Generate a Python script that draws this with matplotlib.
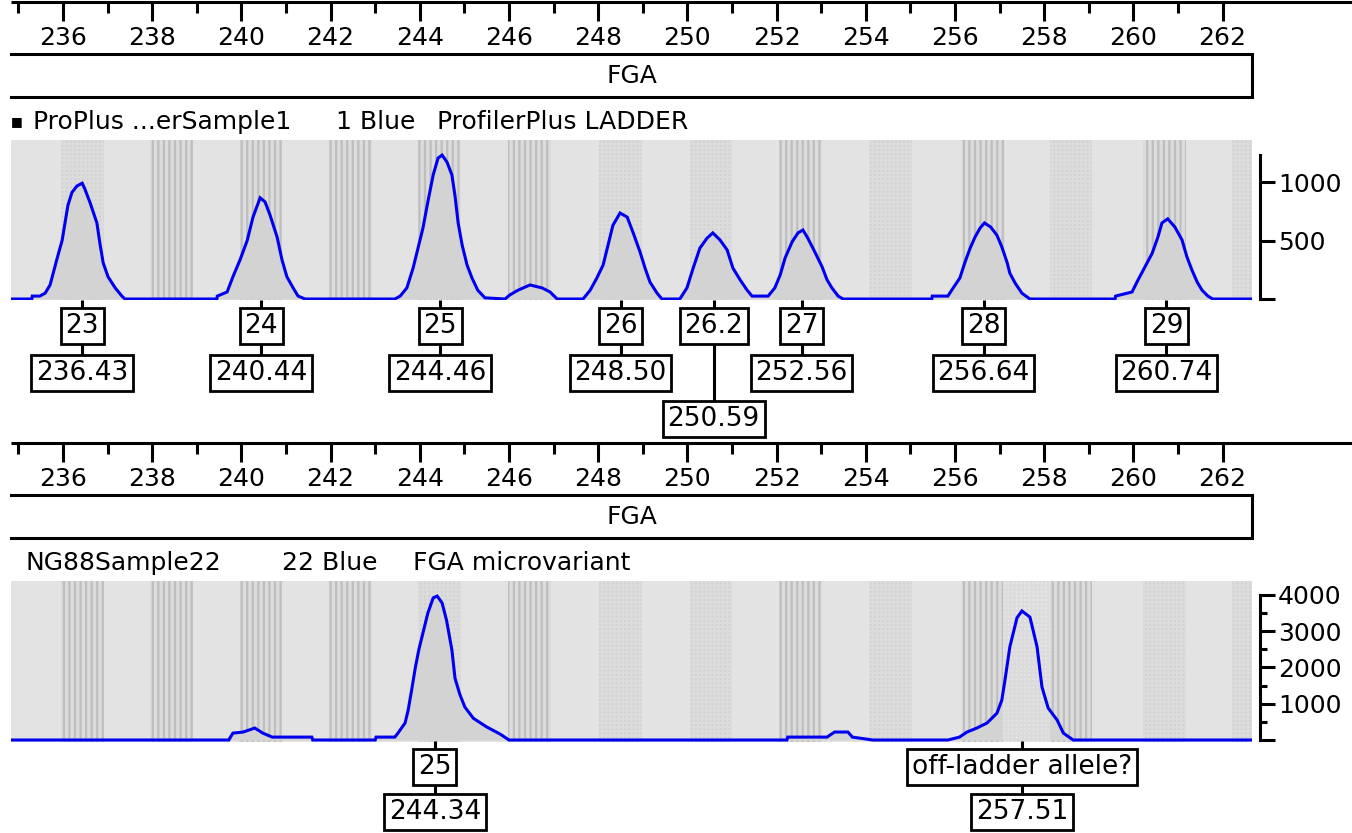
import matplotlib
matplotlib.use('Agg')
import matplotlib.pyplot as plt

W, H = 1352, 833

# ---------------- data ----------------
ruler_ticks = list(range(235, 263))
ruler_labels = list(range(236, 263, 2))

bin_centers = [236.43, 238.43, 240.44, 242.44, 244.44, 246.46, 248.50, 250.53,
               252.53, 254.55, 256.64, 258.60, 260.70, 262.70]
top_bin_kinds = ['c', 's', 's', 's', 's', 's', 'c', 'c', 's', 'c', 's', 'c', 's', 'c']
bot_bin_kinds = ['s', 's', 's', 's', 'c', 's', 'c', 'c', 's', 'c', 's', 's', 'c', 'c']
off_ladder_bin = [257.60]

top_bp = [234.83, 235.30, 235.31, 235.48, 235.60, 235.71, 235.78, 235.87, 235.98, 236.04,
          236.11, 236.20, 236.31, 236.43, 236.49, 236.61, 236.76, 236.83, 236.90, 237.01,
          237.17, 237.32, 237.39,
          239.45, 239.46, 239.68, 239.81, 239.97, 240.13, 240.26, 240.42, 240.53, 240.64,
          240.80, 240.91, 241.02, 241.16, 241.27, 241.43,
          243.44, 243.56, 243.71, 243.85, 243.96, 244.07, 244.18, 244.30, 244.41, 244.50,
          244.61, 244.72, 244.79, 244.86, 244.95, 245.06, 245.17, 245.30, 245.46,
          245.91, 246.02, 246.20, 246.47, 246.74, 246.92, 247.08,
          247.66, 247.82, 247.97, 248.11, 248.22, 248.33, 248.49, 248.65, 248.78, 248.94,
          249.05, 249.16, 249.32, 249.43,
          249.83, 249.99, 250.13, 250.28, 250.44, 250.57, 250.73, 250.89, 251.02, 251.18,
          251.34, 251.45, 251.81, 251.96, 252.08, 252.19, 252.35, 252.48, 252.59, 252.70,
          252.86, 253.02, 253.13, 253.24, 253.38, 253.49,
          255.48, 255.49, 255.84, 255.96, 256.11, 256.22, 256.34, 256.45, 256.56, 256.66,
          256.80, 256.94, 257.05, 257.17, 257.23, 257.35, 257.50, 257.68,
          259.59, 259.60, 259.97, 260.10, 260.26, 260.42, 260.55, 260.64, 260.77, 260.93,
          261.09, 261.20, 261.31, 261.43, 261.54, 261.67, 261.78, 262.66]
top_rfu = [0, 0, 25, 25, 50, 120, 220, 350, 500, 640,
           800, 910, 965, 990, 940, 820, 650, 470, 310, 190,
           95, 25, 0,
           0, 25, 60, 190, 335, 500, 700, 865, 830, 720,
           530, 335, 190, 95, 25, 0,
           0, 25, 95, 265, 435, 605, 830, 1060, 1205, 1230,
           1170, 1060, 880, 650, 460, 290, 180, 75, 10,
           0, 35, 75, 120, 95, 60, 0,
           0, 75, 180, 290, 460, 630, 735, 700, 570, 400,
           265, 145, 50, 0,
           0, 95, 265, 435, 520, 565, 505, 420, 265, 165,
           75, 25, 25, 95, 205, 350, 490, 565, 590, 520,
           400, 275, 165, 95, 25, 0,
           0, 25, 25, 95, 180, 310, 435, 530, 605, 650,
           615, 545, 445, 310, 220, 135, 50, 0,
           0, 25, 60, 160, 275, 390, 530, 650, 685, 615,
           505, 360, 250, 145, 75, 25, 0, 0]

bot_bp = [234.83, 239.72, 239.74, 239.81, 240.04, 240.30, 240.48, 240.69, 241.58, 241.60,
          243.00, 243.02, 243.44, 243.51, 243.67, 243.74, 243.82, 243.90, 243.98, 244.08,
          244.18, 244.30, 244.39, 244.50, 244.60, 244.72, 244.79, 244.90, 245.01, 245.20,
          245.50, 245.80, 246.00, 252.23, 252.25, 253.13, 253.30, 253.60, 253.70, 254.16,
          255.84, 256.10, 256.27, 256.49, 256.72, 256.94, 257.05, 257.12, 257.23, 257.39,
          257.50, 257.68, 257.84, 257.95, 258.09, 258.29, 258.43, 258.65, 262.66]
bot_rfu = [0, 0, 50, 190, 220, 330, 190, 80, 80, 0,
           0, 80, 80, 190, 470, 830, 1400, 2000, 2500, 3000,
           3500, 3920, 3970, 3780, 3300, 2480, 1700, 1250, 910, 600,
           360, 165, 0, 0, 80, 80, 220, 220, 80, 0,
           0, 80, 220, 330, 470, 740, 1100, 1650, 2570, 3370,
           3560, 3390, 2570, 1460, 880, 550, 190, 0, 0]

top_allele_names = ['23', '24', '25', '26', '26.2', '27', '28', '29']
top_allele_sizes = [236.43, 240.44, 244.46, 248.50, 250.59, 252.56, 256.64, 260.74]
top_size_row = [1, 1, 1, 1, 2, 1, 1, 1]
bot_allele_names = ['25', 'off-ladder allele?']
bot_allele_sizes = [244.34, 257.51]

top_yticks = [0, 500, 1000]
top_yticklabels = ['', '500', '1000']
bot_yticks = [0, 1000, 2000, 3000, 4000]
bot_yticklabels = ['', '1000', '2000', '3000', '4000']
bot_yminor = [500, 1500, 2500, 3500]

top_title = ['ProPlus ...erSample1', '1 Blue', 'ProfilerPlus LADDER']
bot_title = ['NG88Sample22', '22 Blue', 'FGA microvariant']
marker_name = 'FGA'

# ---------------- style / layout ----------------
plt.rcParams['font.family'] = ['DejaVu Sans']
plt.rcParams['hatch.linewidth'] = 1.6
FS = 18
BG = '#e3e3e3'
BLUE = '#0000ee'
LW = 2.2

BP0, PX0, PXBP = 236.0, 63.0, 44.6


def bp_at(px):
    return BP0 + (px - PX0) / PXBP


fig = plt.figure(figsize=(W / 100, H / 100), dpi=100)


def px_axes(x0, y0, x1, y1):
    return fig.add_axes([x0 / W, 1 - y1 / H, (x1 - x0) / W, (y1 - y0) / H])


PL, PR = 11, 1252


def panel(y0, y1, ymin, ymax, bp, rfu, kinds, extra=None):
    ax = px_axes(PL, y0, PR, y1)
    ax.set_xlim(bp_at(PL), bp_at(PR))
    ax.set_ylim(ymin, ymax)
    ax.set_facecolor(BG)
    for s in ax.spines.values():
        s.set_visible(False)
    ax.set_xticks([])
    ax.set_yticks([])
    for c, k in zip(bin_centers, kinds):
        if k == 's':
            ax.axvspan(c - 0.48, c + 0.48, facecolor='#dcdcdc', edgecolor='#bebebe',
                       hatch='|||', lw=0, zorder=1)
        else:
            ax.axvspan(c - 0.48, c + 0.48, facecolor='#d1d1d1', edgecolor='#dcdcdc',
                       hatch='++++', lw=0, zorder=1)
    ax.fill_between(bp, 0, rfu, color='#d3d3d3', lw=0, zorder=2)
    if extra:
        for c in extra:
            ax.axvspan(c - 0.52, c + 0.52, facecolor='#e9e9e9', edgecolor='#dadada',
                       hatch='++++', lw=0, zorder=3, alpha=0.85)
    ax.plot(bp, rfu, color=BLUE, lw=LW, zorder=5, solid_joinstyle='miter')
    return ax


def yaxis(y0, y1, ymin, ymax, top, ticks, labels, minor):
    ay = px_axes(1200, y0, 1260, y1)
    ay.set_ylim(ymin, ymax)
    ay.patch.set_visible(False)
    for s in ['left', 'top', 'bottom']:
        ay.spines[s].set_visible(False)
    ay.spines['right'].set_bounds(0, top)
    ay.spines['right'].set_linewidth(LW)
    ay.yaxis.tick_right()
    ay.set_yticks(ticks, labels)
    ay.set_yticks(minor, minor=True)
    ay.set_xticks([])
    ay.tick_params(axis='y', which='major', length=10.8, width=LW, labelsize=FS, pad=2)
    ay.tick_params(axis='y', which='minor', length=5, width=LW)
    return ay


# top panel: 0 rfu at y=299px, 0.117 px per rfu
panel(140, 300, -8.5, 1359, top_bp, top_rfu, top_bin_kinds)
yaxis(140, 300, -8.5, 1359, 1231, top_yticks, top_yticklabels, [])
# bottom panel: 0 rfu at y=740px, 0.03625 px per rfu
panel(581, 742, -55, 4386, bot_bp, bot_rfu, bot_bin_kinds, extra=off_ladder_bin)
yaxis(581, 742, -55, 4386, 4000, bot_yticks, bot_yticklabels, bot_yminor)

# overlay in (bp, pixel-y) coordinates
ax0 = px_axes(0, 0, W, H)
ax0.set_xlim(bp_at(0), bp_at(W))
ax0.set_ylim(H, 0)
ax0.axis('off')
ax0.set_zorder(10)

xl, xr = bp_at(PL), bp_at(PR)


def ruler(y):
    ax0.hlines(y, xl, bp_at(W), color='k', lw=LW)
    for t in ruler_ticks:
        ax0.vlines(t, y, y + (19 if t % 2 == 0 else 11), color='k', lw=LW)
    for t in ruler_labels:
        ax0.text(t, y + 36, str(t), ha='center', va='center', fontsize=FS)
    ax0.plot([xl, xr, xr, xl], [y + 52, y + 52, y + 95, y + 95], color='k', lw=LW,
             solid_joinstyle='miter')
    ax0.text((xl + xr) / 2, y + 74, marker_name, ha='center', va='center', fontsize=FS)


ruler(1.5)
ruler(442.5)

BOX = dict(boxstyle='square,pad=0.18', fc='white', ec='black', lw=2.0)
LFS = 19

row_y = {0: 326, 1: 373, 2: 419}
for name, size, r in zip(top_allele_names, top_allele_sizes, top_size_row):
    ax0.vlines(size, 300, row_y[r], color='k', lw=LW, zorder=1)
    ax0.text(size, row_y[0], name, ha='center', va='center', fontsize=LFS, bbox=BOX, zorder=3)
    ax0.text(size, row_y[r], f'{size:.2f}', ha='center', va='center', fontsize=LFS,
             bbox=BOX, zorder=3)

for name, size in zip(bot_allele_names, bot_allele_sizes):
    ax0.vlines(size, 741, 812, color='k', lw=LW, zorder=1)
    ax0.text(size, 767, name, ha='center', va='center', fontsize=LFS, bbox=BOX, zorder=3)
    ax0.text(size, 812, f'{size:.2f}', ha='center', va='center', fontsize=LFS, bbox=BOX,
             zorder=3)

# sample titles
fig.text(11 / W, 1 - 122 / H, '\u25a0', fontsize=9, va='center', ha='left')
for txt, x in zip(top_title, [33, 336, 437]):
    fig.text(x / W, 1 - 122 / H, txt, fontsize=FS, va='center', ha='left')
for txt, x in zip(bot_title, [25, 282, 413]):
    fig.text(x / W, 1 - 563 / H, txt, fontsize=FS, va='center', ha='left')

fig.savefig('out.png', dpi=100)
